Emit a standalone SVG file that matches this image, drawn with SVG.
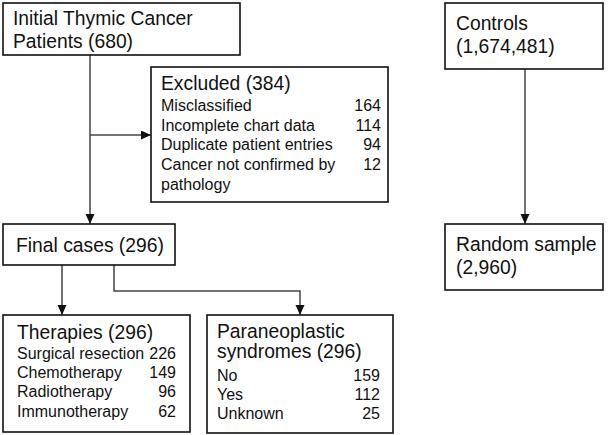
<svg xmlns="http://www.w3.org/2000/svg" width="608" height="435" viewBox="0 0 608 435">
  <style>
    .box { fill: #fff; stroke: #111; stroke-width: 1.6; }
    .t { font-family: "Liberation Sans", Arial, sans-serif; font-size: 19.3px; fill: #111; }
    .s { font-family: "Liberation Sans", Arial, sans-serif; font-size: 16px; fill: #111; }
    .n { text-anchor: end; }
    .conn { fill: none; stroke: #444; stroke-width: 1.5; }
  </style>
  <defs>
    <marker id="arrow" markerUnits="userSpaceOnUse" markerWidth="11" markerHeight="10" refX="10" refY="4.5" orient="auto">
      <path d="M0,0 L10,4.5 L0,9 z" fill="#111"/>
    </marker>
  </defs>
  <rect width="608" height="435" fill="#fff"/>

  <g id="connectors">
    <path class="conn" d="M90,55 V224" marker-end="url(#arrow)"/>
    <path class="conn" d="M90,135 H151" marker-end="url(#arrow)"/>
    <path class="conn" d="M62,265 V315" marker-end="url(#arrow)"/>
    <path class="conn" d="M114,265 V291 H300 V315" marker-end="url(#arrow)"/>
    <path class="conn" d="M525,69 V224" marker-end="url(#arrow)"/>
  </g>

  <g id="initial">
    <rect class="box" x="3" y="3" width="237" height="52"/>
    <text class="t" x="13" y="25">Initial Thymic Cancer</text>
    <text class="t" x="13" y="48">Patients (680)</text>
  </g>

  <g id="excluded">
    <rect class="box" x="151" y="67" width="237" height="135"/>
    <text class="t" x="161" y="90">Excluded (384)</text>
    <text class="s" x="161" y="111">Misclassified</text>
    <text class="s n" x="381" y="111">164</text>
    <text class="s" x="161" y="131">Incomplete chart data</text>
    <text class="s n" x="381" y="131">114</text>
    <text class="s" x="161" y="150">Duplicate patient entries</text>
    <text class="s n" x="381" y="150">94</text>
    <text class="s" x="161" y="170">Cancer not confirmed by</text>
    <text class="s n" x="381" y="170">12</text>
    <text class="s" x="161" y="190">pathology</text>
  </g>

  <g id="controls">
    <rect class="box" x="445" y="3" width="158" height="66"/>
    <text class="t" x="456" y="30">Controls</text>
    <text class="t" x="456" y="53">(1,674,481)</text>
  </g>

  <g id="final">
    <rect class="box" x="3" y="224" width="172" height="41"/>
    <text class="t" x="16" y="252">Final cases (296)</text>
  </g>

  <g id="random">
    <rect class="box" x="445" y="224" width="158" height="66"/>
    <text class="t" x="456" y="251">Random sample</text>
    <text class="t" x="456" y="274">(2,960)</text>
  </g>

  <g id="therapies">
    <rect class="box" x="3" y="315" width="187" height="117"/>
    <text class="t" x="17" y="339">Therapies (296)</text>
    <text class="s" x="17" y="359">Surgical resection</text>
    <text class="s n" x="176" y="359">226</text>
    <text class="s" x="17" y="378">Chemotherapy</text>
    <text class="s n" x="176" y="378">149</text>
    <text class="s" x="17" y="397">Radiotherapy</text>
    <text class="s n" x="176" y="397">96</text>
    <text class="s" x="17" y="417">Immunotherapy</text>
    <text class="s n" x="176" y="417">62</text>
  </g>

  <g id="paraneoplastic">
    <rect class="box" x="207" y="315" width="186" height="118"/>
    <text class="t" x="217" y="338">Paraneoplastic</text>
    <text class="t" x="217" y="358">syndromes (296)</text>
    <text class="s" x="217" y="381">No</text>
    <text class="s n" x="380" y="381">159</text>
    <text class="s" x="217" y="400">Yes</text>
    <text class="s n" x="380" y="400">112</text>
    <text class="s" x="217" y="419">Unknown</text>
    <text class="s n" x="380" y="419">25</text>
  </g>
</svg>
